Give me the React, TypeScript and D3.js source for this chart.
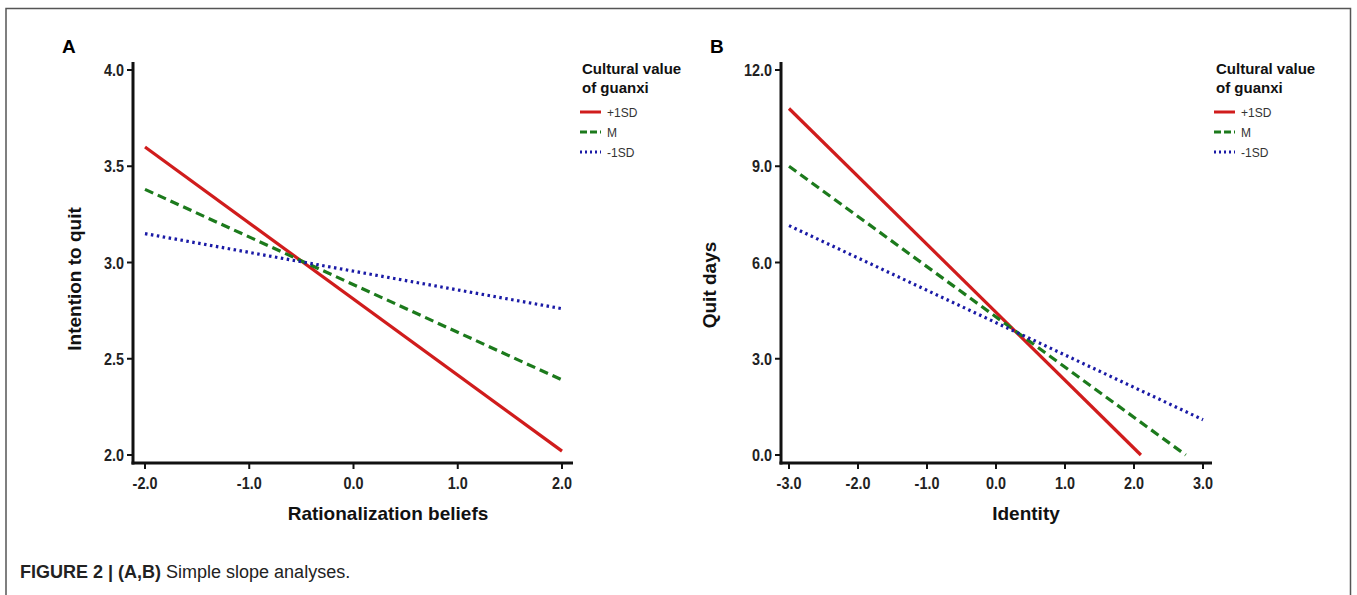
import React from "react";
import * as d3 from "d3";

// Panel A: rationalization beliefs -> intention to quit
const aXTicks = [-2, -1, 0, 1, 2];
const aYTicks = [2.0, 2.5, 3.0, 3.5, 4.0];
const aPlus = [{ x: -2, y: 3.6 }, { x: 2, y: 2.02 }];
const aMean = [{ x: -2, y: 3.38 }, { x: 2, y: 2.39 }];
const aMinus = [{ x: -2, y: 3.15 }, { x: 2, y: 2.76 }];

// Panel B: identity -> quit days
const bXTicks = [-3, -2, -1, 0, 1, 2, 3];
const bYTicks = [0, 3, 6, 9, 12];
const bPlus = [{ x: -3, y: 10.8 }, { x: 2.1, y: 0.0 }];
const bMean = [{ x: -3, y: 9.0 }, { x: 2.75, y: 0.0 }];
const bMinus = [{ x: -3, y: 7.15 }, { x: 3.0, y: 1.1 }];

const legendLabels = ["+1SD", "M", "-1SD"];
const seriesStyle = [
  { color: "#d01c1c", dash: null },
  { color: "#1c7a1c", dash: "9,5" },
  { color: "#1a1aa6", dash: "2.5,3.5" },
];

const SANS = "'Liberation Sans', Arial, sans-serif";

type Pt = { x: number; y: number };

function NText(props: {
  x: number; y: number; size: number; sx?: number; bold?: boolean; anchor?: string;
  fill?: string; rotate?: number; children: React.ReactNode;
}) {
  const sx = props.sx ?? 1;
  const rot = props.rotate ? ` rotate(${props.rotate})` : "";
  return (
    <text transform={`translate(${props.x},${props.y})${rot} scale(${sx},1)`}
      textAnchor={props.anchor || "start"} fontFamily={SANS} fontSize={props.size}
      fontWeight={props.bold ? "bold" : "normal"} fill={props.fill || "#111"}>
      {props.children}
    </text>
  );
}

function Panel(props: {
  letter: string;
  axisX: number;
  xRange: [number, number];
  xEnd: number;
  xDomain: [number, number];
  yDomain: [number, number];
  xTicks: number[];
  yTicks: number[];
  series: Pt[][];
  xLabel: string;
  xLabelX: number;
  yLabel: string;
  yLabelX: number;
  yLabelY: number;
  legendX: number;
}) {
  const { axisX, xRange, xEnd, xDomain, yDomain, xTicks, yTicks, series } = props;
  const x = d3.scaleLinear().domain(xDomain).range(xRange);
  const y = d3.scaleLinear().domain(yDomain).range([455, 70]);
  const axisY = 463;
  const line = d3.line<Pt>().x(d => x(d.x)).y(d => y(d.y));
  const fmt = (v: number) => d3.format(".1f")(v).replace("\u2212", "-");

  return (
    <g>
      <text x={axisX - 71} y={53} fontFamily={SANS} fontWeight="bold" fontSize={19}>{props.letter}</text>
      {series.map((s, i) => (
        <path key={i} d={line(s) || ""} fill="none" stroke={seriesStyle[i].color}
          strokeWidth={3.2} strokeDasharray={seriesStyle[i].dash || undefined} />
      ))}
      <line x1={axisX} x2={axisX} y1={62} y2={axisY + 1.5} stroke="#111" strokeWidth={3} />
      <line x1={axisX - 1.5} x2={xEnd} y1={axisY} y2={axisY} stroke="#111" strokeWidth={3} />
      {yTicks.map(t => (
        <g key={t}>
          <line x1={axisX - 6} x2={axisX} y1={y(t)} y2={y(t)} stroke="#111" strokeWidth={2} />
          <NText x={axisX - 9} y={y(t) + 6} anchor="end" bold size={16} sx={0.9} fill="#222">{fmt(t)}</NText>
        </g>
      ))}
      {xTicks.map(t => (
        <g key={t}>
          <line x1={x(t)} x2={x(t)} y1={axisY} y2={axisY + 6} stroke="#111" strokeWidth={2} />
          <NText x={x(t)} y={axisY + 26} anchor="middle" bold size={16} sx={0.9} fill="#222">{fmt(t)}</NText>
        </g>
      ))}
      <NText x={props.xLabelX} y={520} anchor="middle" bold size={19}>{props.xLabel}</NText>
      <NText x={props.yLabelX} y={props.yLabelY} rotate={-90} anchor="middle" bold size={19}>
        {props.yLabel}
      </NText>
      <g transform={`translate(${props.legendX},0)`}>
        <NText x={2} y={74} bold size={15}>Cultural value</NText>
        <NText x={2} y={93} bold size={15}>of guanxi</NText>
        {legendLabels.map((lab, i) => (
          <g key={lab} transform={`translate(0,${112 + i * 20})`}>
            <line x1={0} x2={21} y1={0} y2={0} stroke={seriesStyle[i].color} strokeWidth={3}
              strokeDasharray={i === 1 ? "7,3" : i === 2 ? "2,3" : undefined} />
            <NText x={27} y={4.5} size={12} fill="#333">{lab}</NText>
          </g>
        ))}
      </g>
    </g>
  );
}

export default function App() {
  return (
    <svg width={1357} height={595} style={{ position: "absolute", left: 0, top: 0, background: "#fff" }}>
      <rect x={0} y={0} width={1357} height={595} fill="#fff" />
      <path d="M6,600 V8.5 H1350.5 V600" fill="none" stroke="#555" strokeWidth={1.5} />
      <Panel letter="A" axisX={133} xRange={[145, 562]} xEnd={573} xDomain={[-2, 2]} yDomain={[2, 4]}
        xTicks={aXTicks} yTicks={aYTicks} series={[aPlus, aMean, aMinus]}
        xLabel="Rationalization beliefs" xLabelX={388} yLabel="Intention to quit" yLabelX={81}
        yLabelY={279} legendX={580} />
      <Panel letter="B" axisX={781} xRange={[789, 1203]} xEnd={1212} xDomain={[-3, 3]} yDomain={[0, 12]}
        xTicks={bXTicks} yTicks={bYTicks} series={[bPlus, bMean, bMinus]}
        xLabel="Identity" xLabelX={1026} yLabel="Quit days" yLabelX={716} yLabelY={285} legendX={1214} />
      <NText x={20} y={578} size={18} fill="#222">
        <tspan fontWeight="bold">FIGURE 2 | (A,B)</tspan> Simple slope analyses.
      </NText>
    </svg>
  );
}
